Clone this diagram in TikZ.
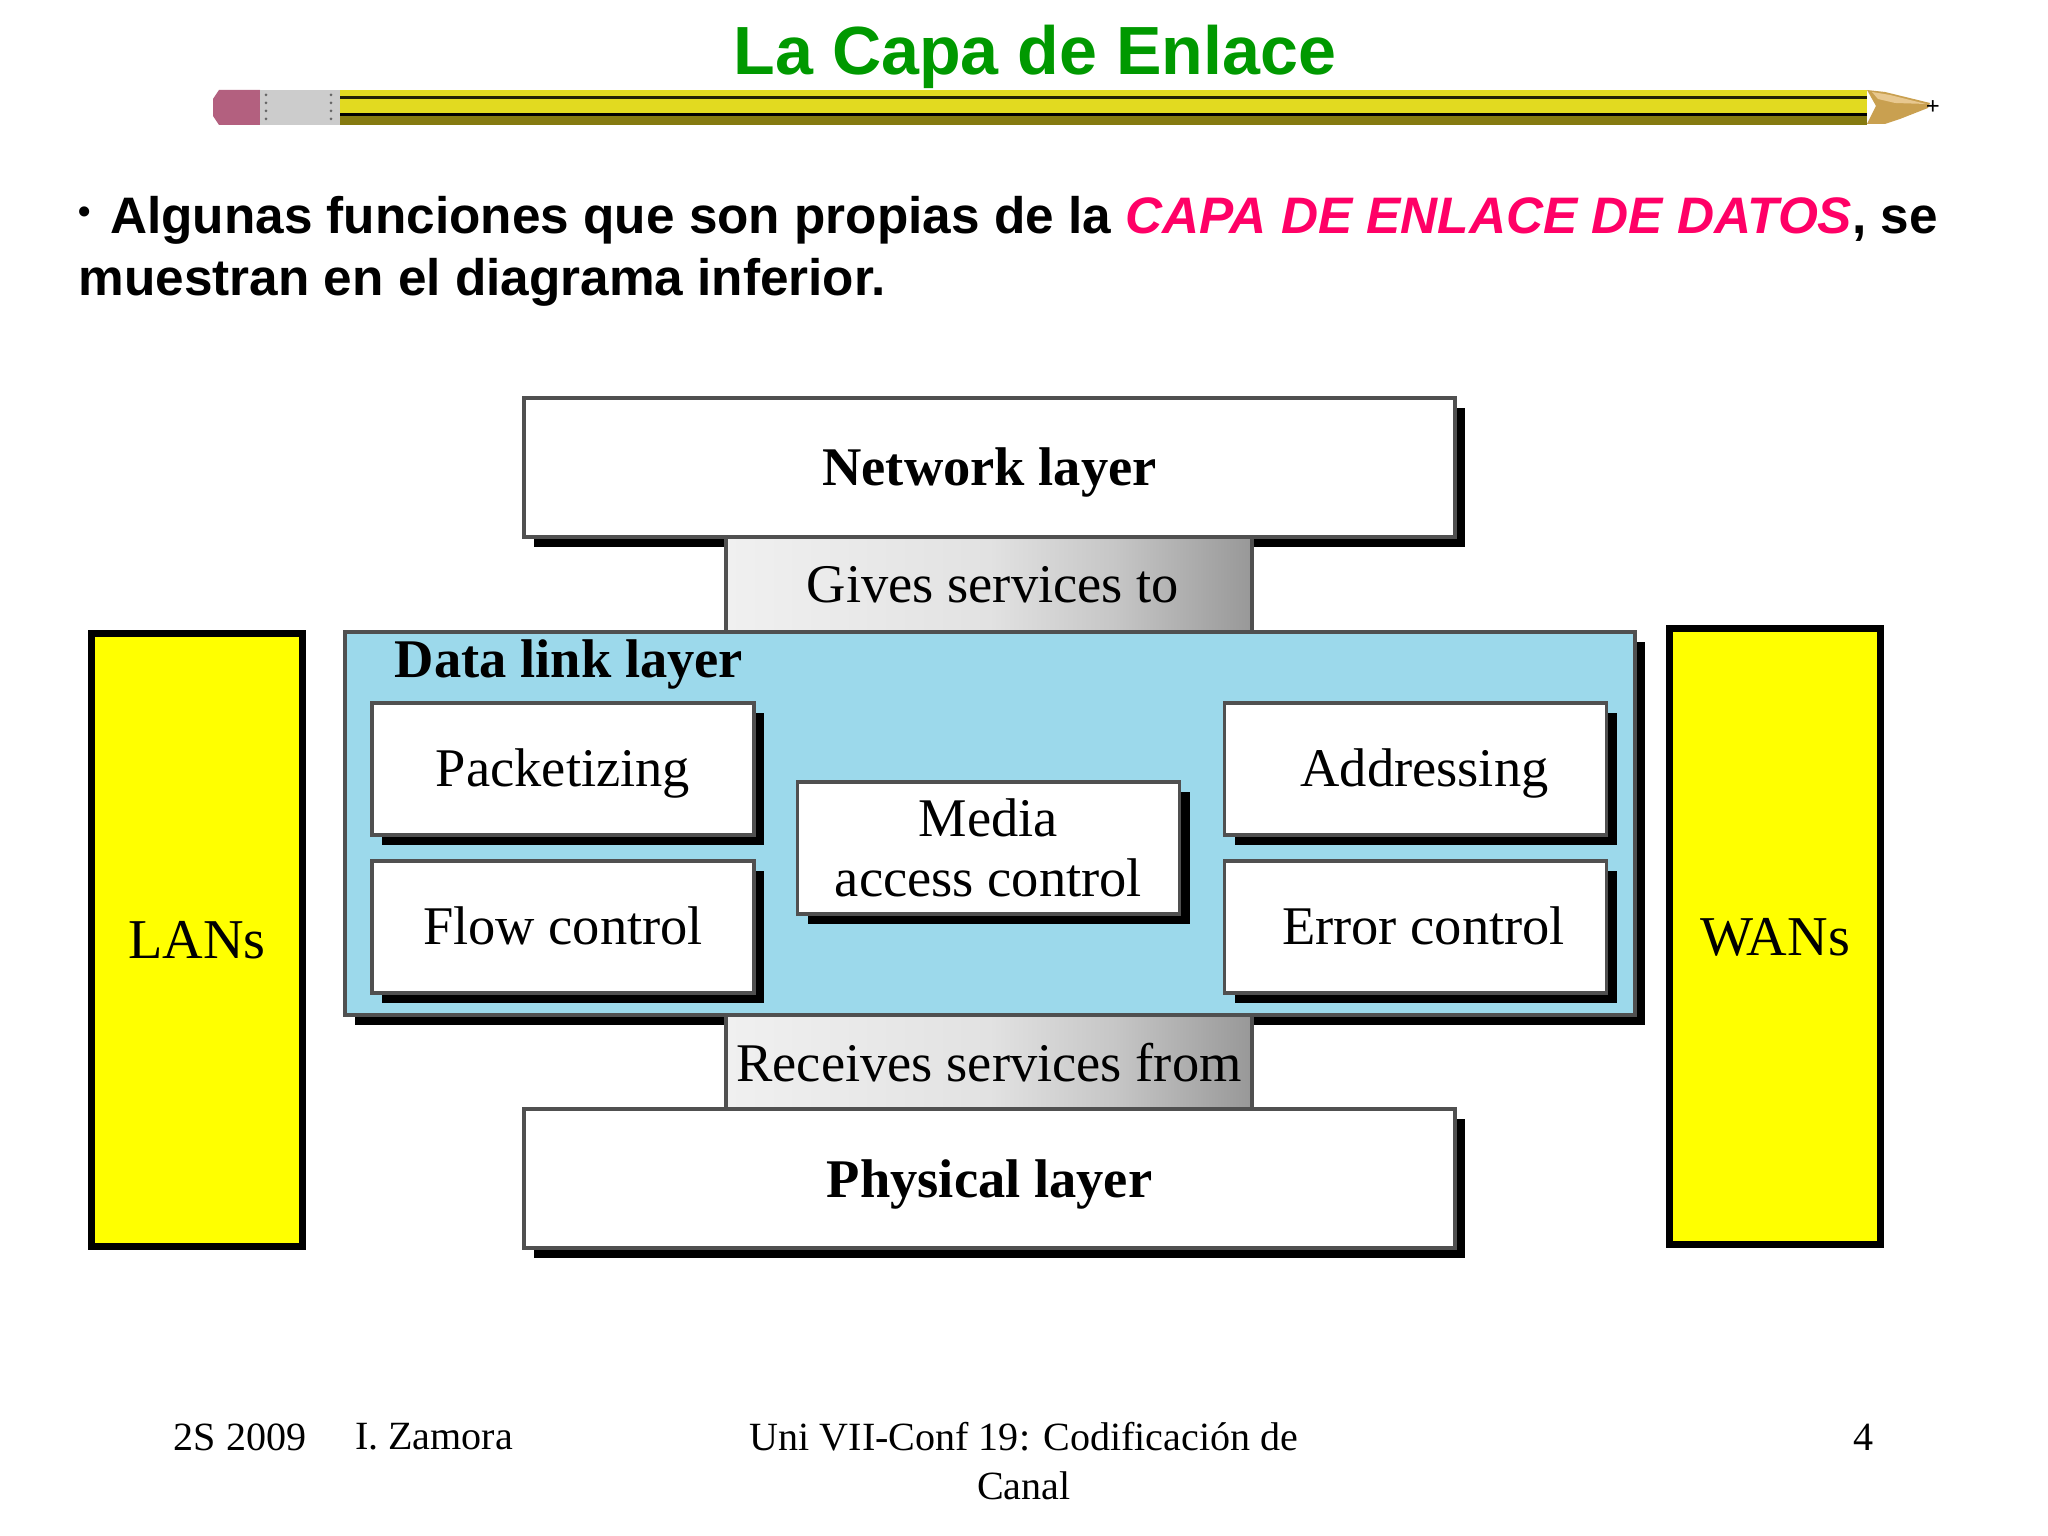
\documentclass[tikz,border=0pt]{standalone}
\usepackage{fontspec}
\setmainfont{Liberation Serif}
\newfontfamily\slidefont{Liberation Sans}
\usetikzlibrary{shadows,shadings}
\definecolor{titlegreen}{HTML}{009900}
\definecolor{capapink}{HTML}{FF0066}
\definecolor{linkblue}{HTML}{9CD9EB}
\definecolor{boxedge}{HTML}{505050}
\definecolor{sideyellow}{HTML}{FFFF00}
\definecolor{pencilyellow}{HTML}{E2DA20}
\definecolor{pencilolive}{HTML}{857A10}
\definecolor{eraserpink}{HTML}{B3607F}
\definecolor{woodtan}{HTML}{C9A050}
\definecolor{woodlight}{HTML}{E8C890}
\definecolor{barlight}{HTML}{F0F0F0}
\definecolor{barmid}{HTML}{E2E2E2}
\definecolor{barsoft}{HTML}{C6C6C6}
\definecolor{bardark}{HTML}{989898}
\pgfdeclarehorizontalshading{servicefade}{100bp}{color(0bp)=(barlight); color(25bp)=(barlight); color(50bp)=(barmid); color(62bp)=(barsoft); color(75bp)=(bardark); color(100bp)=(bardark)}
\tikzset{
    fixedline/.style={text height=13.5pt, text depth=3.4pt},
    layerbox/.style={draw=boxedge, line width=1.1pt, fill=white, minimum width=9.31cm, minimum height=1.39cm, inner sep=0pt,
        drop shadow={shadow xshift=0.1cm, shadow yshift=-0.1cm, fill=black, opacity=1},
        font=\fontsize{15.5}{18}\selectfont\bfseries},
    funcbox/.style={draw=boxedge, line width=1.1pt, fill=white, minimum width=3.82cm, minimum height=1.32cm, inner sep=0pt, align=center,
        drop shadow={shadow xshift=0.1cm, shadow yshift=-0.1cm, fill=black, opacity=1},
        font=\fontsize{15.5}{17}\selectfont},
    servicebar/.style={draw=boxedge, line width=1pt, minimum width=5.26cm, minimum height=0.95cm, inner sep=0pt,
        shading=servicefade, font=\fontsize{15.5}{18}\selectfont},
    sidebox/.style={draw=black, line width=2pt, fill=sideyellow, minimum width=2.11cm, inner sep=0pt,
        font=\fontsize{16}{18}\selectfont},
    footer/.style={inner sep=0pt, font=\fontsize{11.4}{14}\selectfont, align=center}
}
\begin{document}
\begin{tikzpicture}
    \useasboundingbox (0, 0) rectangle (20.48, 15.36);
    % Title
    \node[text=titlegreen, font=\slidefont\fontsize{19.4}{24}\selectfont\bfseries] (title) at (10.35, 14.79) {La Capa de Enlace};
    % Pencil
    \fill[eraserpink] (2.13, 14.20) -- (2.13, 14.37) -- (2.19, 14.46) -- (2.60, 14.46) -- (2.60, 14.11) -- (2.19, 14.11) -- cycle;
    \fill[black!20] (2.60, 14.11) rectangle (3.40, 14.46);
    \foreach \y in {14.17, 14.25, 14.33, 14.41} {
        \fill[black!60] (2.66, \y) circle (0.015);
        \fill[black!60] (3.31, \y) circle (0.015);
    }
    \fill[pencilyellow] (3.40, 14.11) rectangle (18.67, 14.46);
    \fill[black!85!pencilyellow] (3.40, 14.37) rectangle (18.67, 14.40);
    \fill[black] (3.40, 14.20) rectangle (18.67, 14.23);
    \fill[pencilolive] (3.40, 14.11) rectangle (18.67, 14.20);
    \fill[woodtan] (18.67, 14.46) -- (18.85, 14.44) -- (19.30, 14.33) -- (19.28, 14.28) -- (19.00, 14.17) -- (18.85, 14.12) -- (18.67, 14.12) -- (18.76, 14.30) -- cycle;
    \fill[woodlight] (18.72, 14.44) -- (18.90, 14.41) -- (19.26, 14.32) -- (18.95, 14.33) -- (18.78, 14.37) -- cycle;
    \node[inner sep=0pt, font=\fontsize{7}{7}\selectfont\bfseries] (tip) at (19.33, 14.28) {+};
    % Text
    \node[anchor=north west, inner sep=0pt, align=left, font=\slidefont\fontsize{14.6}{17.6}\selectfont\bfseries] (intro) at (0.78, 13.40)
        {\raisebox{3pt}{\normalsize •}\hspace{0.05cm} Algunas funciones que son propias de la \textcolor{capapink}{\textit{CAPA DE ENLACE DE DATOS}}, se\\muestran en el diagrama inferior.};
    % Layers
    \node[layerbox, fixedline] (network) at (9.895, 10.685) {Network layer};
    \node[draw=boxedge, line width=1.1pt, fill=linkblue, minimum width=12.90cm, minimum height=3.83cm,
        drop shadow={shadow xshift=0.1cm, shadow yshift=-0.1cm, fill=black, opacity=1}] (datalink) at (9.90, 7.125) {};
    \node[servicebar] (gives) at (9.89, 9.515) {\hspace*{0.08cm}Gives services to};
    \node[servicebar] (receives) at (9.89, 4.735) {Receives services from};
    \node[layerbox, text height=14.5pt, text depth=3.4pt] (physical) at (9.895, 3.575) {Physical layer};
    \node[fixedline, font=\fontsize{15.5}{18}\selectfont\bfseries] (datalinklabel) at (5.69, 8.765) {Data link layer};
    % Functions
    \node[funcbox, fixedline] (packetizing) at (5.63, 7.67) {Packetizing};
    \node[funcbox, fixedline] (flow) at (5.63, 6.09) {Flow control};
    \node[funcbox] (media) at (9.885, 6.88) {Media\\access control};
    \node[funcbox, fixedline] (addressing) at (14.155, 7.67) {\hspace*{0.18cm}Addressing};
    \node[funcbox, fixedline] (error) at (14.155, 6.09) {\hspace*{0.16cm}Error control};
    % Networks
    \node[sidebox, minimum height=6.13cm] (lans) at (1.97, 5.96) {LANs};
    \node[sidebox, minimum height=6.16cm] (wans) at (17.75, 5.99) {WANs};
    % Footer
    \node[footer] (term) at (2.40, 0.99) {2S 2009};
    \node[footer] (author) at (4.34, 0.99) {I. Zamora};
    \node[footer] (course) at (10.24, 0.75) {Uni VII-Conf 19: Codificación de\\Canal};
    \node[footer] (page) at (18.64, 0.99) {4};
\end{tikzpicture}
\end{document}
